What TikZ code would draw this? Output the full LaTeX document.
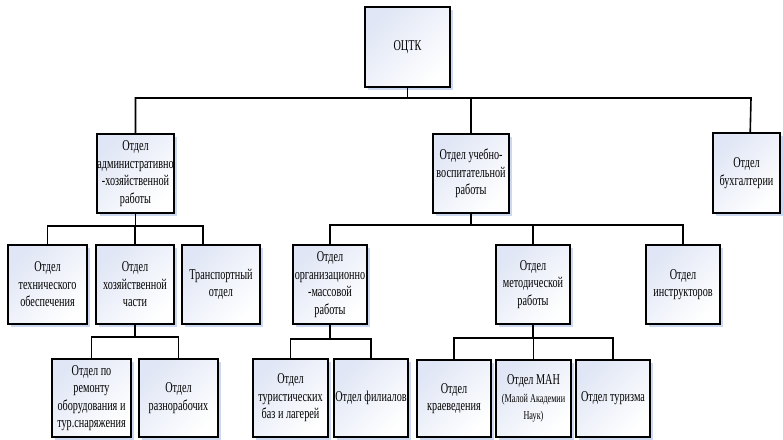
\documentclass[tikz,border=0pt]{standalone}
\usepackage{fontspec}
\setmainfont[FakeStretch=0.68]{Liberation Serif}
\usetikzlibrary{shadows}
\definecolor{boxblue}{HTML}{E0E6F5}
\definecolor{shadowblue}{HTML}{CCD7F0}
\newcommand\orgfont{\fontsize{15}{17.5}\selectfont\fontdimen2\font=2.6pt\relax}
\newcommand\orgsmallfont{\fontsize{12}{15}\selectfont\fontdimen2\font=2.1pt\relax}
\tikzset{
  box/.style={draw=black, line width=1.6pt, inner xsep=0.5pt, inner ysep=0pt,
    align=center, font=\orgfont,
    top color=boxblue, bottom color=white, shading angle=45,
    drop shadow={shadow xshift=3pt, shadow yshift=-3pt, fill=shadowblue, opacity=1}},
  link/.style={draw=black, line width=1.6pt}
}
\newcommand\orgbox[6]{%
  \pgfmathsetmacro\boxW{#4-#2}\pgfmathsetmacro\boxH{#5-#3}%
  \pgfmathsetmacro\boxX{(#2+#4)/2}\pgfmathsetmacro\boxY{(#3+#5)/2}%
  \node[box, minimum width=\boxW pt, minimum height=\boxH pt]
    (#1) at (\boxX,\boxY) {#6};}
\begin{document}
\begin{tikzpicture}[x=1pt,y=-1pt]
\useasboundingbox (0,0) rectangle (783,439);
\orgbox{root}{365}{7}{450}{87}{ОЦТК}
\orgbox{adm}{97}{134}{174}{213}{Отдел\\административно\\-хозяйственной\\работы}
\orgbox{ucheb}{433}{134}{509}{213}{Отдел учебно-\\воспитательной\\работы}
\orgbox{buh}{713}{133}{780}{213}{Отдел\\бухгалтерии}
\orgbox{tech}{8}{245}{87}{324}{Отдел\\технического\\обеспечения}
\orgbox{hoz}{96}{245}{174}{324}{Отдел\\хозяйственной\\части}
\orgbox{trans}{182}{245}{260}{324}{Транспортный\\отдел}
\orgbox{org}{293}{245}{367}{324}{Отдел\\организационно\\-массовой\\работы}
\orgbox{metod}{496}{245}{570}{324}{Отдел\\методической\\работы}
\orgbox{instr}{646}{245}{720}{324}{Отдел\\инструкторов}
\orgbox{remont}{52}{359}{131}{437}{Отдел по\\ремонту\\оборудования и\\тур.снаряжения}
\orgbox{razno}{139}{359}{218}{437}{Отдел\\разнорабочих}
\orgbox{turbaz}{253}{359}{328}{437}{Отдел\\туристических\\баз и лагерей}
\orgbox{filial}{334}{359}{408}{437}{Отдел филиалов}
\orgbox{kraev}{417}{360}{491}{437}{Отдел\\краеведения}
\orgbox{man}{496}{360}{571}{437}{Отдел МАН\\{\orgsmallfont (Малой Академии}\\{\orgsmallfont Наук)}}
\orgbox{turizm}{576}{360}{650}{437}{Отдел туризма}
% level 1
\draw[link] (root.south) -- (root.south |- 0,98);
\draw[link] (adm.north) |- (751,98) -- ([xshift=38pt]buh.north west);
\draw[link] (ucheb.north) -- (ucheb.north |- 0,98);
% adm subtree
\draw[link] (adm.south) -- (adm.south |- 0,226);
\draw[link] (tech.north) |- ([xshift=22pt]trans.north west |- 0,226) -- ([xshift=22pt]trans.north west);
\draw[link] (hoz.north) -- (hoz.north |- 0,226);
% hoz subtree
\draw[link] (hoz.south) -- (hoz.south |- 0,337);
\draw[link] (remont.north) |- (razno.north |- 0,337) -- (razno.north);
% ucheb subtree
\draw[link] (ucheb.south) -- (ucheb.south |- 0,225);
\draw[link] (org.north) |- (instr.north |- 0,225) -- (instr.north);
\draw[link] (metod.north) -- (metod.north |- 0,225);
% org subtree
\draw[link] (org.south) -- (org.south |- 0,339);
\draw[link] (turbaz.north) |- (filial.north |- 0,339) -- (filial.north);
% metod subtree
\draw[link] (metod.south) -- (metod.south |- 0,338);
\draw[link] (kraev.north) |- (turizm.north |- 0,338) -- (turizm.north);
\draw[link] (man.north) -- (man.north |- 0,338);
\end{tikzpicture}
\end{document}
